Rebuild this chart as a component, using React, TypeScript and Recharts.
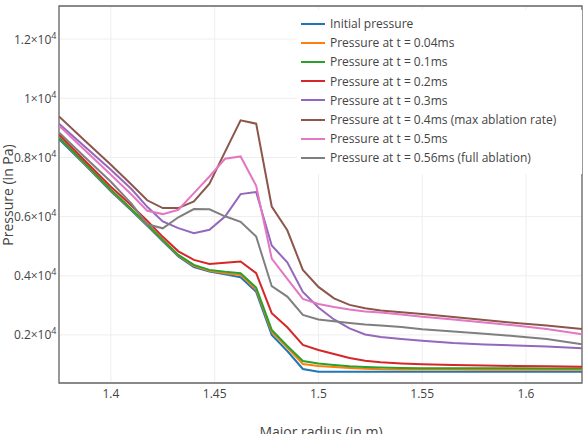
import { LineChart, Line, XAxis, YAxis, CartesianGrid, Legend, ReferenceArea } from 'recharts';

// major radius grid (m)
const radius = [
  1.375, 1.3875, 1.4, 1.41, 1.4175, 1.425, 1.4325, 1.44, 1.4475, 1.455, 1.4625, 1.47, 1.4775, 1.485,
  1.4925, 1.5, 1.5075, 1.515, 1.5225, 1.53, 1.54, 1.55, 1.565, 1.58, 1.595, 1.61, 1.627,
];

// pressure profiles (Pa)
const initial = [8615, 7752, 6856, 6196, 5688, 5164, 4656, 4291, 4142, 4047, 3952, 3455, 2000, 1458, 849, 758, 755, 755, 755, 755, 755, 755, 755, 755, 755, 755, 755];
const t004 = [8683, 7786, 6889, 6230, 5722, 5198, 4683, 4335, 4165, 4081, 4030, 3539, 2101, 1577, 1018, 951, 917, 883, 859, 839, 832, 830, 830, 828, 828, 826, 825];
const t01 = [8666, 7803, 6906, 6247, 5739, 5214, 4707, 4368, 4199, 4132, 4088, 3600, 2169, 1627, 1120, 1035, 984, 940, 917, 900, 885, 875, 873, 872, 871, 870, 868];
const t02 = [8768, 7888, 7008, 6365, 5857, 5316, 4825, 4538, 4402, 4436, 4480, 4087, 2734, 2260, 1661, 1492, 1357, 1221, 1127, 1076, 1035, 1008, 984, 967, 951, 940, 927];
const t03 = [9140, 8362, 7583, 6923, 6331, 5834, 5610, 5441, 5553, 6003, 6761, 6829, 5022, 4453, 3455, 2930, 2524, 2220, 2016, 1932, 1864, 1807, 1729, 1678, 1644, 1610, 1550];
const t04 = [9387, 8565, 7752, 7076, 6551, 6287, 6287, 6510, 7109, 8189, 9252, 9140, 6341, 5536, 4199, 3624, 3235, 3015, 2903, 2829, 2768, 2710, 2609, 2507, 2406, 2321, 2203];
const t05 = [9072, 8243, 7414, 6737, 6196, 6084, 6230, 6795, 7356, 7955, 8033, 7042, 4582, 3895, 3218, 3049, 2947, 2863, 2795, 2761, 2693, 2619, 2524, 2423, 2321, 2203, 2023];
const t056 = [8845, 8006, 7177, 6433, 5739, 5604, 5976, 6253, 6247, 6010, 5824, 5326, 3648, 3296, 2676, 2524, 2463, 2406, 2355, 2321, 2270, 2193, 2118, 2044, 1956, 1864, 1685];

const xTicks = [1.4, 1.45, 1.5, 1.55, 1.6];
const yTicks = [2000, 4000, 6000, 8000, 10000, 12000];

const SERIES = [
  { key: 'initial', name: 'Initial pressure', color: '#1f77b4', values: initial },
  { key: 't004', name: 'Pressure at t = 0.04ms', color: '#ff7f0e', values: t004 },
  { key: 't01', name: 'Pressure at t = 0.1ms', color: '#2ca02c', values: t01 },
  { key: 't02', name: 'Pressure at t = 0.2ms', color: '#d62728', values: t02 },
  { key: 't03', name: 'Pressure at t = 0.3ms', color: '#9467bd', values: t03 },
  { key: 't04', name: 'Pressure at t = 0.4ms (max ablation rate)', color: '#8c564b', values: t04 },
  { key: 't05', name: 'Pressure at t = 0.5ms', color: '#e377c2', values: t05 },
  { key: 't056', name: 'Pressure at t = 0.56ms (full ablation)', color: '#7f7f7f', values: t056 },
];

const data = radius.map((r, i) => {
  const row: Record<string, number> = { r };
  SERIES.forEach((s) => { row[s.key] = s.values[i]; });
  return row;
});

const FONT = '"Open Sans", sans-serif';
const X_DOMAIN: [number, number] = [1.375, 1.627];
const Y_DOMAIN: [number, number] = [376, 13117];

const PressureTick = ({ x, y, payload }: any) => {
  const mant = +(payload.value / 1e4).toFixed(1);
  return (
    <text x={x} y={y} dy={4.5} textAnchor="end" fill="#444" fontSize={12} fontFamily={FONT}>
      {mant}×10<tspan dy={-5} fontSize={9}>4</tspan>
    </text>
  );
};

// legend keeps the trace order (recharts sorts its payload by name)
const renderLegend = () => (
  <div style={{ background: '#fff', padding: '4px 6px 6px 4px', fontFamily: FONT, fontSize: 12, color: '#444' }}>
    {SERIES.map((s) => (
      <div key={s.key} style={{ display: 'flex', alignItems: 'center', height: 19.2 }}>
        <svg width={24} height={4} style={{ flex: 'none' }}>
          <line x1={0} y1={2} x2={24} y2={2} stroke={s.color} strokeWidth={2} />
        </svg>
        <span style={{ marginLeft: 5, whiteSpace: 'nowrap' }}>{s.name}</span>
      </div>
    ))}
  </div>
);

export default function App() {
  return (
    <div style={{ position: 'absolute', left: 0, top: 0, width: 584, height: 434, background: '#fff' }}>
      <LineChart width={584} height={434} data={data} margin={{ top: 6, right: 2, bottom: 0, left: 0 }}>
        <CartesianGrid stroke="#eee" />
        <XAxis
          dataKey="r"
          type="number"
          domain={X_DOMAIN}
          ticks={xTicks}
          allowDataOverflow
          axisLine={false}
          tickLine={false}
          tickSize={0}
          tickMargin={6}
          height={51}
          tick={{ fill: '#444', fontSize: 12, fontFamily: FONT }}
          label={{
            content: () => (
              <text x={321} y={437} textAnchor="middle" fill="#444" fontSize={14} fontFamily={FONT}>
                Major radius (in m)
              </text>
            ),
          }}
        />
        <YAxis
          type="number"
          domain={Y_DOMAIN}
          ticks={yTicks}
          allowDataOverflow
          axisLine={false}
          tickLine={false}
          tickSize={0}
          tickMargin={2.5}
          width={59}
          tick={<PressureTick />}
          label={{
            content: () => (
              <text
                x={12.5}
                y={195}
                transform="rotate(-90, 12.5, 195)"
                textAnchor="middle"
                fill="#444"
                fontSize={14}
                fontFamily={FONT}
              >
                Pressure (in Pa)
              </text>
            ),
          }}
        />
        {SERIES.map((s) => (
          <Line
            key={s.key}
            type="linear"
            dataKey={s.key}
            name={s.name}
            stroke={s.color}
            strokeWidth={2}
            dot={false}
            activeDot={false}
            isAnimationActive={false}
          />
        ))}
        <ReferenceArea
          x1={X_DOMAIN[0]}
          x2={X_DOMAIN[1]}
          y1={Y_DOMAIN[0]}
          y2={Y_DOMAIN[1]}
          fill="none"
          stroke="#666"
          strokeWidth={1.3}
        />
        <Legend
          layout="vertical"
          align="center"
          verticalAlign="middle"
          content={renderLegend}
          wrapperStyle={{ left: 297, top: 10, width: 285 }}
        />
      </LineChart>
    </div>
  );
}
